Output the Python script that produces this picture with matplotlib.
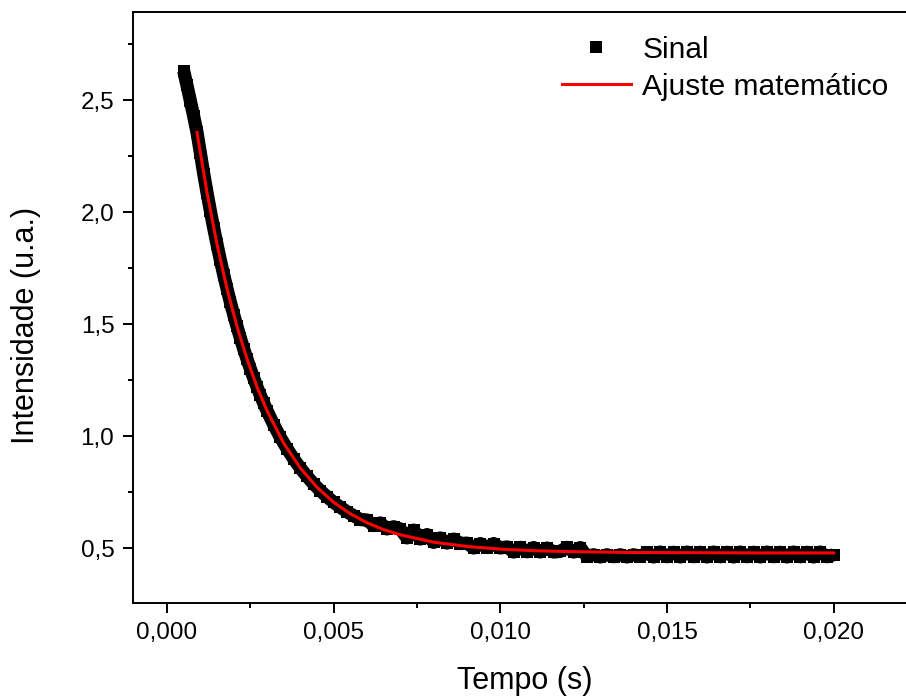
import matplotlib
matplotlib.use("Agg")
import matplotlib.pyplot as plt
from matplotlib.ticker import MultipleLocator, FuncFormatter

plt.rcParams['font.family'] = ['Liberation Sans', 'DejaVu Sans']

# measured signal (black squares)
sig_x = [0.0005, 0.0006, 0.0007, 0.0008, 0.0009, 0.0010, 0.0011, 0.0012, 0.0013, 0.0014,
         0.0015, 0.0016, 0.0017, 0.0018, 0.0019, 0.0020, 0.0021, 0.0022, 0.0023, 0.0024,
         0.0025, 0.0026, 0.0027, 0.0028, 0.0029, 0.0030, 0.0032, 0.0034, 0.0036, 0.0038,
         0.0040, 0.0042, 0.0044, 0.0046, 0.0048, 0.0050, 0.0052, 0.0054, 0.0056, 0.0058,
         0.0060, 0.0062, 0.0064, 0.0066, 0.0068, 0.0070, 0.0072, 0.0074, 0.0076, 0.0078,
         0.0080, 0.0082, 0.0084, 0.0086, 0.0088, 0.0090, 0.0092, 0.0094, 0.0096, 0.0098,
         0.0100, 0.0102, 0.0104, 0.0106, 0.0108, 0.0110, 0.0112, 0.0114, 0.0116, 0.0118,
         0.0120, 0.0122, 0.0124, 0.0126, 0.0128, 0.0130, 0.0132, 0.0134, 0.0136, 0.0138,
         0.0140, 0.0142, 0.0144, 0.0146, 0.0148, 0.0150, 0.0152, 0.0154, 0.0156, 0.0158,
         0.0160, 0.0162, 0.0164, 0.0166, 0.0168, 0.0170, 0.0172, 0.0174, 0.0176, 0.0178,
         0.0180, 0.0182, 0.0184, 0.0186, 0.0188, 0.0190, 0.0192, 0.0194, 0.0196, 0.0198,
         0.0200]
sig_y = [2.63, 2.565, 2.497, 2.428, 2.356, 2.265, 2.172, 2.087, 2.006, 1.929,
         1.856, 1.786, 1.720, 1.658, 1.598, 1.542, 1.489, 1.438, 1.389, 1.344,
         1.300, 1.259, 1.219, 1.182, 1.147, 1.113, 1.051, 0.994, 0.944, 0.898,
         0.857, 0.820, 0.786, 0.756, 0.729, 0.704, 0.682, 0.662, 0.644, 0.627,
         0.625, 0.600, 0.612, 0.585, 0.595, 0.585, 0.545, 0.580, 0.540, 0.560,
         0.525, 0.545, 0.522, 0.540, 0.520, 0.522, 0.500, 0.520, 0.502, 0.520,
         0.500, 0.505, 0.482, 0.503, 0.483, 0.502, 0.482, 0.500, 0.482, 0.485,
         0.503, 0.482, 0.502, 0.462, 0.470, 0.460, 0.470, 0.461, 0.470, 0.460,
         0.470, 0.462, 0.480, 0.460, 0.482, 0.461, 0.481, 0.460, 0.482, 0.461,
         0.481, 0.460, 0.482, 0.461, 0.481, 0.460, 0.482, 0.461, 0.481, 0.460,
         0.482, 0.461, 0.481, 0.460, 0.482, 0.461, 0.481, 0.460, 0.482, 0.461,
         0.470]

# fitted curve (red line)
fit_x = [0.0009, 0.0012, 0.0015, 0.0018, 0.0021, 0.0024, 0.0027, 0.0030, 0.0035, 0.0040,
         0.0045, 0.0050, 0.0055, 0.0060, 0.0065, 0.0070, 0.0080, 0.0090, 0.0100, 0.0110,
         0.0120, 0.0140, 0.0160, 0.0180, 0.0200]
fit_y = [2.356, 2.087, 1.856, 1.658, 1.489, 1.344, 1.219, 1.113, 0.968, 0.857,
         0.771, 0.704, 0.653, 0.613, 0.582, 0.559, 0.526, 0.507, 0.495, 0.488,
         0.484, 0.480, 0.479, 0.478, 0.478]

fig = plt.figure(figsize=(9.06, 6.98), dpi=100)
ax = fig.add_axes([0.1468, 0.1361, 0.8653, 0.8467])

# dense band: connecting line fills gaps between the squares
ax.plot(sig_x, sig_y, color='black', lw=9.5, solid_joinstyle='round',
        solid_capstyle='butt', zorder=2)
ax.plot(sig_x, sig_y, 's', color='black', ms=9, mew=0, label='Sinal', zorder=2)
ax.plot(fit_x, fit_y, color='red', lw=2.2, label='Ajuste matemático', zorder=3)

ax.set_xlim(-0.00102, 0.0225)
ax.set_ylim(0.2545, 2.893)
ax.xaxis.set_major_locator(MultipleLocator(0.005))
ax.xaxis.set_minor_locator(MultipleLocator(0.0025))
ax.yaxis.set_major_locator(MultipleLocator(0.5))
ax.yaxis.set_minor_locator(MultipleLocator(0.25))
ax.xaxis.set_major_formatter(FuncFormatter(lambda v, p: f"{v:.3f}".replace('.', ',').replace('-', '')))
ax.yaxis.set_major_formatter(FuncFormatter(lambda v, p: f"{v:.1f}".replace('.', ',')))

ax.tick_params(which='both', direction='out', width=1.4, labelsize=17.5, top=False, right=False)
ax.tick_params(which='major', length=7.5, pad=6)
ax.tick_params(which='minor', length=3.5)
for s in ax.spines.values():
    s.set_linewidth(1.4)

ax.set_xlabel('Tempo (s)', fontsize=22, labelpad=16)
ax.set_ylabel('Intensidade (u.a.)', fontsize=22)
ax.yaxis.set_label_coords(-0.117, 0.47)

ax.legend(loc='upper left', bbox_to_anchor=(0.547, 0.96), frameon=False, fontsize=21.5,
          handlelength=2.3, handletextpad=0.4, labelspacing=0.3, borderpad=0, borderaxespad=0)

fig.savefig('out.png', dpi=100)
